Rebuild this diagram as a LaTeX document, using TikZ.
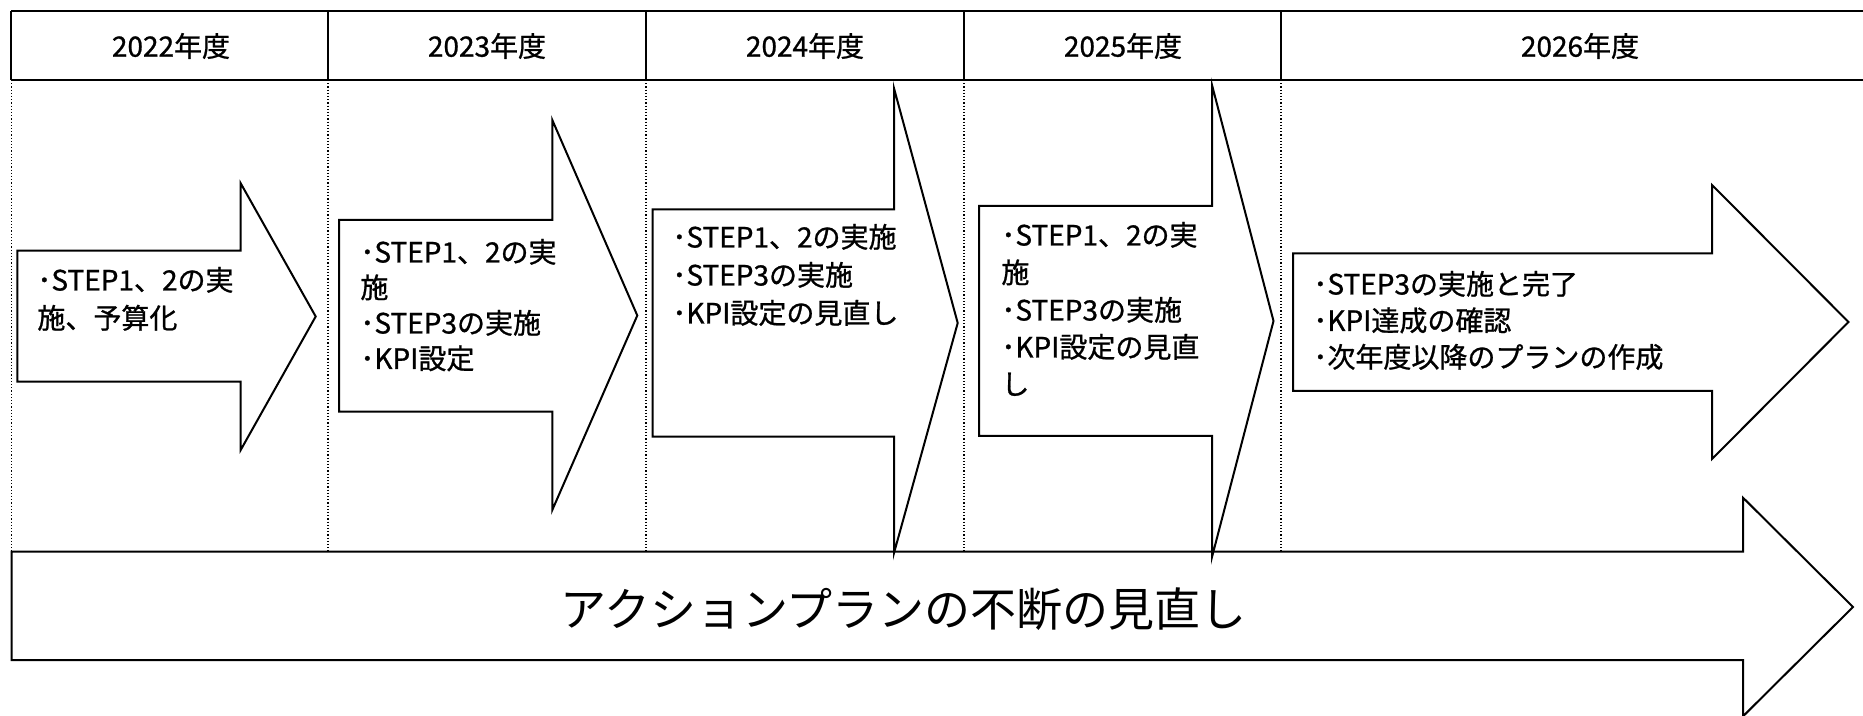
\documentclass[tikz,border=0pt]{standalone}
\usepackage{fontspec}
\setmainfont{Noto Sans CJK JP}
\newfontfamily\semi{Noto Sans CJK JP}[FakeBold=0.9]
\newcommand\blockarrow[8]{%
  \draw[arr] (#1,#2) -- (#4,#2) -- (#4,#5) -- (#7,#8) -- (#4,#6) -- (#4,#3) -- (#1,#3) -- cycle;}
\begin{document}
\begin{tikzpicture}[x=0.5pt,y=-0.5pt,line join=miter,
  arr/.style={draw=black,line width=1pt,fill=white},
  hdr/.style={line width=1.2pt},
  sep/.style={densely dotted,line width=0.6pt},
  lbl/.style={font=\semi\fontsize{14pt}{18pt}\selectfont,anchor=base west,inner sep=0pt},
  yr/.style={font=\semi\fontsize{14pt}{18pt}\selectfont,inner sep=0pt},
  big/.style={font=\fontsize{23pt}{28pt}\selectfont,inner sep=0pt}]
\useasboundingbox (0,0) rectangle (1863,716);
\clip (0,0) rectangle (1863,716);
\fill[white] (0,0) rectangle (1863,716);
% header row
\draw[hdr] (11,11) -- (1863,11);
\draw[hdr] (11,80) -- (1863,80);
\foreach \x in {11,328,646,964,1281} \draw[hdr] (\x,11) -- (\x,80);
\node[yr] (y22) at (171,46) {2022年度};
\node[yr] (y23) at (487,46) {2023年度};
\node[yr] (y24) at (805,46) {2024年度};
\node[yr] (y25) at (1123,46) {2025年度};
\node[yr] (y26) at (1580,46) {2026年度};
% dotted column separators
\draw[sep] (11.5,80) -- (11.5,639);
\foreach \x in {328,646,964,1281} \draw[sep] (\x,80) -- (\x,551);
% big arrow
\blockarrow{11.6}{551.6}{660}{1743}{497.7}{716.3}{1853}{607}
\node[big] (plan) at (903.5,609.6) {アクションプランの不断の見直し};
% yearly arrows
\blockarrow{17.3}{250.7}{381.7}{240.7}{183.3}{450}{315.7}{316.5}
\blockarrow{339}{220}{411.7}{552.3}{120}{510}{637.3}{315.5}
\blockarrow{652.7}{209.3}{436.7}{894}{88.3}{553}{957.7}{323}
\blockarrow{979}{206}{436}{1212}{85}{557}{1273.5}{321}
\blockarrow{1293}{253.4}{390.8}{1712}{185}{459}{1848.5}{322}
% texts
\node[lbl] (a1) at (37,290.5) {･STEP1、2の実};
\node[lbl] (a2) at (37,328.5) {施、予算化};
\node[lbl] (b1) at (360,262.5) {･STEP1、2の実};
\node[lbl] (b2) at (360,298) {施};
\node[lbl] (b3) at (360,333.5) {･STEP3の実施};
\node[lbl] (b4) at (360,369) {･KPI設定};
\node[lbl] (c1) at (672,247.5) {･STEP1、2の実施};
\node[lbl] (c2) at (672,285.5) {･STEP3の実施};
\node[lbl] (c3) at (672,323.5) {･KPI設定の見直し};
\node[lbl] (d1) at (1001,245.5) {･STEP1、2の実};
\node[lbl] (d2) at (1001,283) {施};
\node[lbl] (d3) at (1001,320.5) {･STEP3の実施};
\node[lbl] (d4) at (1001,357.5) {･KPI設定の見直};
\node[lbl] (d5) at (1001,394.5) {し};
\node[lbl] (e1) at (1313,294.5) {･STEP3の実施と完了};
\node[lbl] (e2) at (1313,331) {･KPI達成の確認};
\node[lbl] (e3) at (1313,367.5) {･次年度以降のプランの作成};
\end{tikzpicture}
\end{document}
